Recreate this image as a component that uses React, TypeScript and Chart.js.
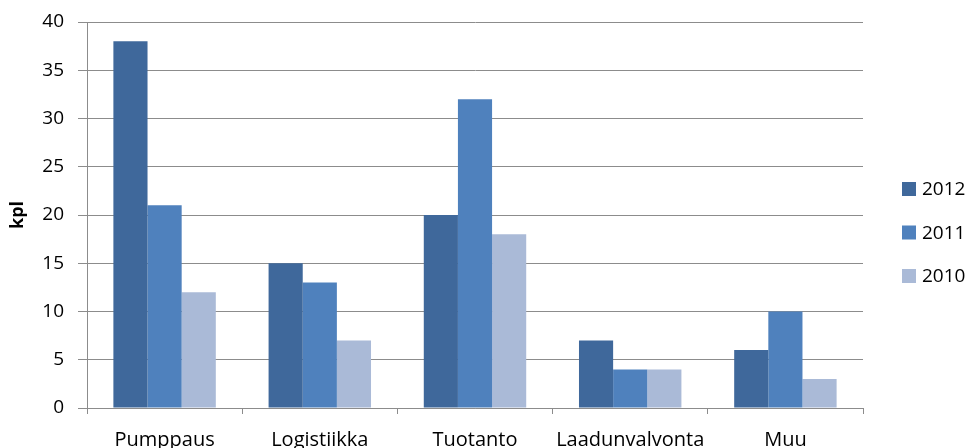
import React, { useEffect, useRef } from "react";
import { Chart, registerables } from "chart.js";

Chart.register(...registerables);

const categories = ["Pumppaus", "Logistiikka", "Tuotanto", "Laadunvalvonta", "Muu"];
const seriesNames = ["2012", "2011", "2010"];
const values2012 = [38, 15, 20, 7, 6];
const values2011 = [21, 13, 32, 4, 10];
const values2010 = [12, 7, 18, 4, 3];
const seriesColors = ["#3F689B", "#4F81BD", "#AABAD7"];

const FONT = "'Open Sans', 'Liberation Sans', sans-serif";
const GRID = "#8C8C8C";

// Legend drawn at the right side, vertically stacked squares with labels
const sideLegend = {
  id: "sideLegend",
  afterDraw(chart: any) {
    const ctx = chart.ctx;
    const x = 902;
    const startY = 189;
    const gap = 43.5;
    ctx.save();
    ctx.font = `19px ${FONT}`;
    ctx.textBaseline = "middle";
    ctx.textAlign = "left";
    chart.data.datasets.forEach((ds: any, i: number) => {
      const y = startY + i * gap;
      ctx.fillStyle = ds.backgroundColor;
      ctx.fillRect(x, y - 7, 14, 14);
      ctx.fillStyle = "#000";
      ctx.fillText(ds.label, x + 20, y + 1);
    });
    ctx.restore();
  },
};

export default function App() {
  const ref = useRef<HTMLCanvasElement>(null);

  useEffect(() => {
    document.body.style.margin = "0";
    const chart = new Chart(ref.current!, {
      type: "bar",
      data: {
        labels: categories,
        datasets: [values2012, values2011, values2010].map((d, i) => ({
          label: seriesNames[i],
          data: d,
          backgroundColor: seriesColors[i],
          borderWidth: 0,
          barPercentage: 1,
          categoryPercentage: 0.66,
        })),
      },
      options: {
        animation: false,
        responsive: false,
        maintainAspectRatio: false,
        layout: { padding: { top: 22, right: 104, left: 0, bottom: 0 } },
        plugins: {
          legend: { display: false },
          tooltip: { enabled: false },
        },
        scales: {
          x: {
            grid: {
              display: true,
              drawOnChartArea: false,
              drawTicks: true,
              tickLength: 6,
              color: GRID,
              offset: true,
            },
            border: { color: GRID, width: 1 },
            ticks: {
              color: "#000",
              font: { family: FONT, size: 20 },
              padding: 14,
              maxRotation: 0,
              autoSkip: false,
            },
            afterFit(scale: any) {
              scale.height = 40;
            },
          },
          y: {
            min: 0,
            max: 40,
            ticks: {
              stepSize: 5,
              color: "#000",
              font: { family: FONT, size: 19 },
              padding: 14,
            },
            grid: { color: GRID, tickLength: 9, lineWidth: 1 },
            border: { color: GRID, width: 1 },
            title: {
              display: true,
              text: "kpl",
              color: "#000",
              font: { family: FONT, size: 18, weight: "bold" },
              padding: { top: 7, bottom: 0 },
            },
            afterFit(scale: any) {
              scale.width = 87;
              scale.paddingTop = 0;
              scale.paddingBottom = 0;
            },
          },
        },
      },
      plugins: [sideLegend],
    });
    return () => chart.destroy();
  }, []);

  return (
    <div style={{ position: "absolute", left: 0, top: 0, width: 967, height: 448, background: "#fff" }}>
      <canvas ref={ref} width={967} height={448} style={{ width: 967, height: 448, display: "block" }} />
    </div>
  );
}
